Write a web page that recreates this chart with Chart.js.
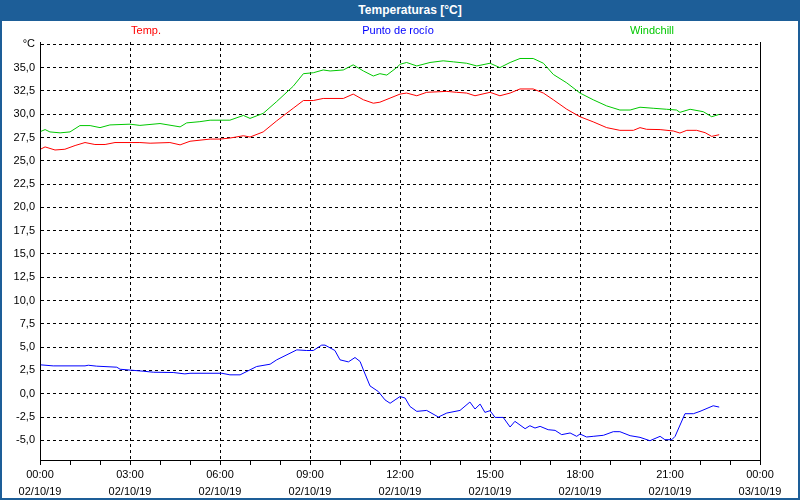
<!DOCTYPE html>
<html>
<head>
<meta charset="utf-8">
<script src="https://cdn.jsdelivr.net/npm/chart.js@4/dist/chart.umd.min.js"></script>
<style>
    body { margin: 0; background: #fff; }
    #wrap { position: relative; width: 800px; height: 500px; font-family: "Liberation Sans", Arial, sans-serif; }
    #frame { position: absolute; left: 0; top: 0; width: 800px; height: 500px; box-sizing: border-box;
             border: 2px solid #1d5e98; border-top: none; pointer-events: none; }
    #titleBar { position: absolute; left: 0; top: 0; width: 800px; height: 21px; background: #1d5e98;
                color: #fff; font-weight: bold; font-size: 12px; line-height: 21px; text-align: center;
                box-sizing: border-box; padding-left: 20px; }
    .legendItem { position: absolute; top: 24px; font-size: 11px; transform: translateX(-50%); white-space: nowrap; }
    canvas { position: absolute; left: 0; top: 0; }
</style>
</head>
<body>
<div id="wrap">
    <canvas id="tempChart" width="800" height="500"></canvas>
    <div id="titleBar">Temperaturas [°C]</div>
    <div id="legend"></div>
    <div id="frame"></div>
</div>
<script>
// Data (hours since 00:00 02/10/19)
const tempHours = [0.03, 0.17, 0.5, 0.83, 1.17, 1.5, 1.83, 2.17, 2.5, 3.33, 3.67, 4.33, 4.67, 5.0, 5.67, 6.0, 6.33, 6.78, 7.0, 7.44, 7.89, 8.44, 8.78, 9.11, 9.44, 10.11, 10.44, 10.78, 11.11, 11.33, 11.67, 12.0, 12.22, 12.56, 12.89, 13.56, 13.89, 14.22, 14.5, 15.0, 15.33, 15.67, 16.0, 16.44, 16.78, 17.11, 17.56, 18.0, 18.44, 18.89, 19.33, 19.78, 20.0, 20.22, 20.67, 21.11, 21.33, 21.56, 21.89, 22.17, 22.39, 22.64];
const tempValues = [26.27, 26.49, 26.16, 26.24, 26.64, 26.96, 26.75, 26.75, 26.96, 26.96, 26.89, 26.96, 26.71, 27.1, 27.33, 27.33, 27.44, 27.69, 27.55, 28.1, 29.29, 30.64, 31.47, 31.47, 31.69, 31.69, 32.16, 31.55, 31.18, 31.29, 31.73, 32.16, 32.27, 31.98, 32.35, 32.45, 32.35, 32.27, 31.98, 32.35, 31.98, 32.27, 32.71, 32.71, 32.27, 31.55, 30.53, 29.73, 29.18, 28.56, 28.27, 28.27, 28.56, 28.38, 28.35, 28.2, 27.98, 28.27, 28.27, 28.02, 27.62, 27.8];

const dewHours = [0.03, 0.44, 1.5, 1.61, 1.89, 2.56, 2.67, 3.44, 3.78, 4.44, 4.83, 5.0, 6.06, 6.33, 6.67, 7.22, 7.67, 7.89, 8.56, 8.89, 9.11, 9.39, 9.5, 9.83, 10.0, 10.28, 10.5, 10.67, 10.78, 11.0, 11.28, 11.5, 11.67, 12.0, 12.17, 12.33, 12.56, 12.89, 13.28, 13.56, 14.0, 14.33, 14.5, 14.67, 14.83, 15.0, 15.17, 15.44, 15.67, 15.83, 16.17, 16.33, 16.5, 16.67, 16.94, 17.17, 17.39, 17.67, 17.89, 18.0, 18.22, 18.44, 18.78, 19.11, 19.33, 19.67, 20.0, 20.33, 20.67, 20.83, 21.06, 21.17, 21.5, 21.78, 22.0, 22.44, 22.64];
const dewValues = [3.1, 2.99, 2.99, 3.06, 2.96, 2.85, 2.63, 2.42, 2.31, 2.28, 2.13, 2.2, 2.2, 2.03, 2.03, 2.92, 3.17, 3.64, 4.71, 4.64, 4.64, 5.22, 5.22, 4.64, 3.64, 3.42, 3.89, 3.46, 2.56, 0.84, 0.23, -0.66, -1.02, -0.3, -0.46, -1.36, -1.89, -1.79, -2.5, -2.07, -1.79, -0.89, -1.64, -1.11, -2.0, -1.82, -2.54, -2.54, -3.57, -2.96, -3.75, -3.43, -3.68, -3.5, -3.86, -3.93, -4.39, -4.21, -4.57, -4.32, -4.64, -4.57, -4.46, -4.07, -4.07, -4.5, -4.68, -5.04, -4.57, -4.93, -4.93, -4.57, -2.14, -2.14, -1.89, -1.29, -1.43];

const chillHours = [0.03, 0.17, 0.33, 0.67, 1.0, 1.33, 1.67, 2.0, 2.33, 3.0, 3.33, 4.0, 4.67, 4.89, 5.33, 5.67, 6.33, 6.78, 7.0, 7.44, 7.89, 8.44, 8.78, 9.11, 9.44, 9.67, 10.11, 10.44, 10.78, 11.11, 11.33, 11.56, 11.89, 12.0, 12.22, 12.56, 13.0, 13.44, 13.78, 14.22, 14.56, 15.0, 15.33, 15.67, 16.0, 16.44, 16.78, 17.11, 17.56, 18.0, 18.44, 18.89, 19.33, 19.67, 20.0, 20.44, 20.89, 21.22, 21.33, 21.67, 22.11, 22.39, 22.64];
const chillValues = [28.16, 28.35, 28.1, 28.0, 28.1, 28.78, 28.78, 28.56, 28.85, 28.93, 28.8, 29.0, 28.64, 29.07, 29.2, 29.36, 29.36, 29.87, 29.55, 30.09, 31.36, 33.0, 34.35, 34.45, 34.75, 34.64, 34.75, 35.3, 34.64, 34.1, 34.35, 34.2, 35.0, 35.36, 35.55, 35.18, 35.55, 35.73, 35.62, 35.47, 35.18, 35.47, 35.0, 35.55, 35.98, 35.98, 35.47, 34.27, 33.36, 32.27, 31.55, 30.89, 30.45, 30.45, 30.75, 30.64, 30.53, 30.45, 30.2, 30.53, 30.27, 29.73, 29.98];

const seriesNames = ['Temp.', 'Punto de rocío', 'Windchill'];
const seriesColors = ['#ff0000', '#0000ff', '#00c800'];
const legendCenters = [146, 398, 652];

const yTicks = [-5, -2.5, 0, 2.5, 5, 7.5, 10, 12.5, 15, 17.5, 20, 22.5, 25, 27.5, 30, 32.5, 35, 37.5];
const timeLabels = ['00:00', '03:00', '06:00', '09:00', '12:00', '15:00', '18:00', '21:00', '00:00'];
const dateLabels = ['02/10/19', '02/10/19', '02/10/19', '02/10/19', '02/10/19', '02/10/19', '02/10/19', '02/10/19', '03/10/19'];

function toPoints(hours, values) {
    return hours.map((h, i) => ({ x: h, y: values[i] }));
}

// Legend
const legendDiv = document.getElementById('legend');
seriesNames.forEach((name, i) => {
    const span = document.createElement('span');
    span.className = 'legendItem';
    span.textContent = name;
    span.style.color = seriesColors[i];
    span.style.left = legendCenters[i] + 'px';
    legendDiv.appendChild(span);
});

// Solid right edge of the plot
const rightBorder = {
    id: 'rightBorder',
    afterDraw(chart) {
        const { ctx, chartArea } = chart;
        const x = Math.round(chartArea.right) + 0.5;
        ctx.save();
        ctx.strokeStyle = '#000';
        ctx.lineWidth = 1;
        ctx.beginPath();
        ctx.moveTo(x, chartArea.top);
        ctx.lineTo(x, chartArea.bottom + 5);
        ctx.stroke();
        ctx.restore();
    }
};

const tickFont = { family: '"Liberation Sans", Arial, sans-serif', size: 11 };

const ctx = document.getElementById('tempChart').getContext('2d');
new Chart(ctx, {
    type: 'line',
    data: {
        datasets: [
            { label: seriesNames[0], data: toPoints(tempHours, tempValues), borderColor: seriesColors[0] },
            { label: seriesNames[1], data: toPoints(dewHours, dewValues), borderColor: seriesColors[1] },
            { label: seriesNames[2], data: toPoints(chillHours, chillValues), borderColor: seriesColors[2] }
        ]
    },
    options: {
        responsive: false,
        animation: false,
        devicePixelRatio: 1,
        elements: {
            line: { borderWidth: 1, tension: 0 },
            point: { radius: 0 }
        },
        layout: { padding: { top: 42, right: 40, left: 0, bottom: 0 } },
        plugins: {
            legend: { display: false },
            title: { display: false },
            tooltip: { enabled: false }
        },
        scales: {
            x: {
                type: 'linear',
                min: 0,
                max: 24,
                afterFit: (scale) => { scale.height = 40; },
                ticks: {
                    stepSize: 1,
                    autoSkip: false,
                    maxRotation: 0,
                    padding: 1,
                    color: '#000',
                    font: { family: tickFont.family, size: 11, lineHeight: 1.55 },
                    callback: (v) => (v % 3 === 0 ? [timeLabels[v / 3], dateLabels[v / 3]] : '')
                },
                grid: {
                    color: (c) => (c.tick && c.tick.value % 3 === 0 && c.tick.value > 0 && c.tick.value < 24 ? '#000' : 'rgba(0,0,0,0)'),
                    tickColor: '#000',
                    tickLength: 5,
                    lineWidth: 1
                },
                border: { color: '#000', width: 1, dash: [3, 3] }
            },
            y: {
                min: -7.11,
                max: 37.75,
                afterFit: (scale) => { scale.width = 40; },
                afterBuildTicks: (scale) => { scale.ticks = yTicks.map(v => ({ value: v })); },
                ticks: {
                    padding: 5,
                    color: '#000',
                    font: tickFont,
                    callback: (v) => (v === 37.5 ? '°C' : v.toFixed(1).replace('.', ','))
                },
                grid: {
                    color: '#000',
                    drawTicks: false,
                    lineWidth: 1
                },
                border: { color: '#000', width: 1, dash: [3, 3] }
            }
        }
    },
    plugins: [rightBorder]
});
</script>
</body>
</html>
